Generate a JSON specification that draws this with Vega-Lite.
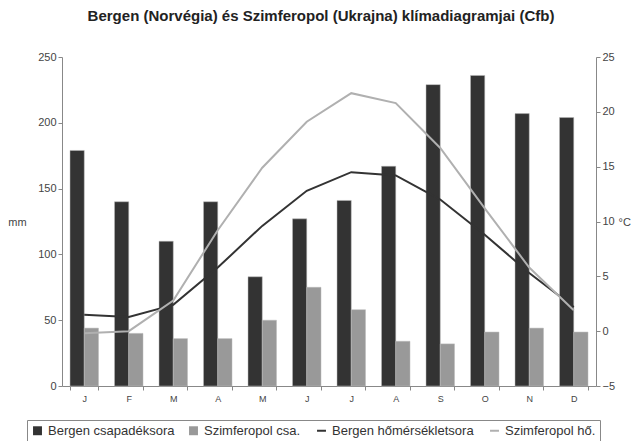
{
  "$schema": "https://vega.github.io/schema/vega-lite/v6.json",
  "width": 534,
  "height": 329,
  "autosize": {"type": "none"},
  "padding": {"left": 62, "top": 57, "right": 44, "bottom": 55},
  "background": "white",
  "title": {
    "text": "Bergen (Norvégia) és Szimferopol (Ukrajna) klímadiagramjai (Cfb)",
    "fontSize": 15,
    "fontWeight": "bold",
    "font": "Liberation Sans",
    "color": "#222222",
    "anchor": "middle",
    "offset": 27,
    "dx": -8
  },
  "config": {
    "view": {"stroke": null},
    "font": "Liberation Sans",
    "axis": {
      "grid": false,
      "domainColor": "#888888",
      "tickColor": "#888888",
      "labelColor": "#444444",
      "labelFontSize": 11,
      "titleFontSize": 11,
      "titleFontWeight": "normal",
      "titleColor": "#444444",
      "tickSize": 4
    }
  },
  "data": {
    "values": [
      {"i": 1, "pser": "Bergen csapadéksora", "tser": "Bergen hőmérsékletsora", "prec": 179, "temp": 1.5},
      {"i": 2, "pser": "Bergen csapadéksora", "tser": "Bergen hőmérsékletsora", "prec": 140, "temp": 1.3},
      {"i": 3, "pser": "Bergen csapadéksora", "tser": "Bergen hőmérsékletsora", "prec": 110, "temp": 2.4},
      {"i": 4, "pser": "Bergen csapadéksora", "tser": "Bergen hőmérsékletsora", "prec": 140, "temp": 5.8},
      {"i": 5, "pser": "Bergen csapadéksora", "tser": "Bergen hőmérsékletsora", "prec": 83, "temp": 9.6},
      {"i": 6, "pser": "Bergen csapadéksora", "tser": "Bergen hőmérsékletsora", "prec": 127, "temp": 12.8},
      {"i": 7, "pser": "Bergen csapadéksora", "tser": "Bergen hőmérsékletsora", "prec": 141, "temp": 14.5},
      {"i": 8, "pser": "Bergen csapadéksora", "tser": "Bergen hőmérsékletsora", "prec": 167, "temp": 14.2},
      {"i": 9, "pser": "Bergen csapadéksora", "tser": "Bergen hőmérsékletsora", "prec": 229, "temp": 12.0},
      {"i": 10, "pser": "Bergen csapadéksora", "tser": "Bergen hőmérsékletsora", "prec": 236, "temp": 8.8},
      {"i": 11, "pser": "Bergen csapadéksora", "tser": "Bergen hőmérsékletsora", "prec": 207, "temp": 5.3},
      {"i": 12, "pser": "Bergen csapadéksora", "tser": "Bergen hőmérsékletsora", "prec": 204, "temp": 2.2},
      {"i": 1, "pser": "Szimferopol csa.", "tser": "Szimferopol hő.", "prec": 44, "temp": -0.2},
      {"i": 2, "pser": "Szimferopol csa.", "tser": "Szimferopol hő.", "prec": 40, "temp": 0.0},
      {"i": 3, "pser": "Szimferopol csa.", "tser": "Szimferopol hő.", "prec": 36, "temp": 2.8},
      {"i": 4, "pser": "Szimferopol csa.", "tser": "Szimferopol hő.", "prec": 36, "temp": 9.2},
      {"i": 5, "pser": "Szimferopol csa.", "tser": "Szimferopol hő.", "prec": 50, "temp": 14.9},
      {"i": 6, "pser": "Szimferopol csa.", "tser": "Szimferopol hő.", "prec": 75, "temp": 19.1},
      {"i": 7, "pser": "Szimferopol csa.", "tser": "Szimferopol hő.", "prec": 58, "temp": 21.7},
      {"i": 8, "pser": "Szimferopol csa.", "tser": "Szimferopol hő.", "prec": 34, "temp": 20.8},
      {"i": 9, "pser": "Szimferopol csa.", "tser": "Szimferopol hő.", "prec": 32, "temp": 16.7},
      {"i": 10, "pser": "Szimferopol csa.", "tser": "Szimferopol hő.", "prec": 41, "temp": 11.2},
      {"i": 11, "pser": "Szimferopol csa.", "tser": "Szimferopol hő.", "prec": 44, "temp": 5.8},
      {"i": 12, "pser": "Szimferopol csa.", "tser": "Szimferopol hő.", "prec": 41, "temp": 1.9}
    ]
  },
  "encoding": {
    "x": {
      "field": "i",
      "type": "ordinal",
      "scale": {"paddingInner": 0.36, "paddingOuter": 0.18},
      "axis": {
        "title": null,
        "labelAngle": 0,
        "tickBand": "extent",
        "labelPadding": 4,
        "labelFontSize": 9,
        "labelExpr": "['J','F','M','A','M','J','J','A','S','O','N','D'][datum.value-1]"
      }
    }
  },
  "layer": [
    {
      "mark": {"type": "bar", "stroke": "#bbbbbb", "strokeWidth": 0.5},
      "encoding": {
        "xOffset": {"field": "pser", "type": "nominal", "scale": {"paddingInner": 0}},
        "y": {
          "field": "prec",
          "type": "quantitative",
          "scale": {"domain": [0, 250], "nice": false},
          "axis": {
            "values": [0, 50, 100, 150, 200, 250],
            "title": "mm",
            "titleAngle": 0,
            "titleX": -45,
            "titleY": 165,
            "titleAlign": "center",
            "titleBaseline": "middle"
          }
        },
        "color": {
          "field": "pser",
          "type": "nominal",
          "scale": {
            "domain": ["Bergen csapadéksora", "Szimferopol csa.", "Bergen hőmérsékletsora", "Szimferopol hő."],
            "range": ["#333333", "#999999", "#333333", "#b0b0b0"]
          },
          "legend": {
            "orient": "none",
            "legendX": -35,
            "legendY": 363,
            "direction": "horizontal",
            "columns": 4,
            "columnPadding": 12,
            "title": null,
            "strokeColor": "#888888",
            "padding": 4,
            "labelFontSize": 13,
            "labelColor": "#333333",
            "symbolSize": 80,
            "encode": {
              "symbols": {
                "update": {
                  "shape": {"signal": "indexof(['Bergen hőmérsékletsora','Szimferopol hő.'], datum.value) >= 0 ? 'stroke' : 'square'"},
                  "stroke": {"signal": "scale('color', datum.value)"},
                  "fill": {"signal": "indexof(['Bergen hőmérsékletsora','Szimferopol hő.'], datum.value) >= 0 ? 'transparent' : scale('color', datum.value)"},
                  "strokeWidth": {"signal": "indexof(['Bergen hőmérsékletsora','Szimferopol hő.'], datum.value) >= 0 ? 2 : 0"},
                  "opacity": {"value": 1}
                }
              }
            }
          }
        }
      }
    },
    {
      "mark": {"type": "line", "strokeWidth": 2},
      "encoding": {
        "y": {
          "field": "temp",
          "type": "quantitative",
          "scale": {"domain": [-5, 25], "nice": false},
          "axis": {
            "orient": "right",
            "values": [-5, 0, 5, 10, 15, 20, 25],
            "title": "°C",
            "titleAngle": 0,
            "titleX": 22,
            "titleY": 165,
            "titleAlign": "left",
            "titleBaseline": "middle"
          }
        },
        "color": {
          "field": "tser",
          "type": "nominal",
          "legend": {
            "orient": "none",
            "legendX": -35,
            "legendY": 363,
            "direction": "horizontal",
            "columns": 4,
            "columnPadding": 12,
            "title": null,
            "strokeColor": "#888888",
            "padding": 4,
            "labelFontSize": 13,
            "labelColor": "#333333",
            "symbolSize": 80,
            "encode": {
              "symbols": {
                "update": {
                  "shape": {"signal": "indexof(['Bergen hőmérsékletsora','Szimferopol hő.'], datum.value) >= 0 ? 'stroke' : 'square'"},
                  "stroke": {"signal": "scale('color', datum.value)"},
                  "fill": {"signal": "indexof(['Bergen hőmérsékletsora','Szimferopol hő.'], datum.value) >= 0 ? 'transparent' : scale('color', datum.value)"},
                  "strokeWidth": {"signal": "indexof(['Bergen hőmérsékletsora','Szimferopol hő.'], datum.value) >= 0 ? 2 : 0"},
                  "opacity": {"value": 1}
                }
              }
            }
          }
        }
      }
    }
  ],
  "resolve": {"scale": {"y": "independent"}}
}
